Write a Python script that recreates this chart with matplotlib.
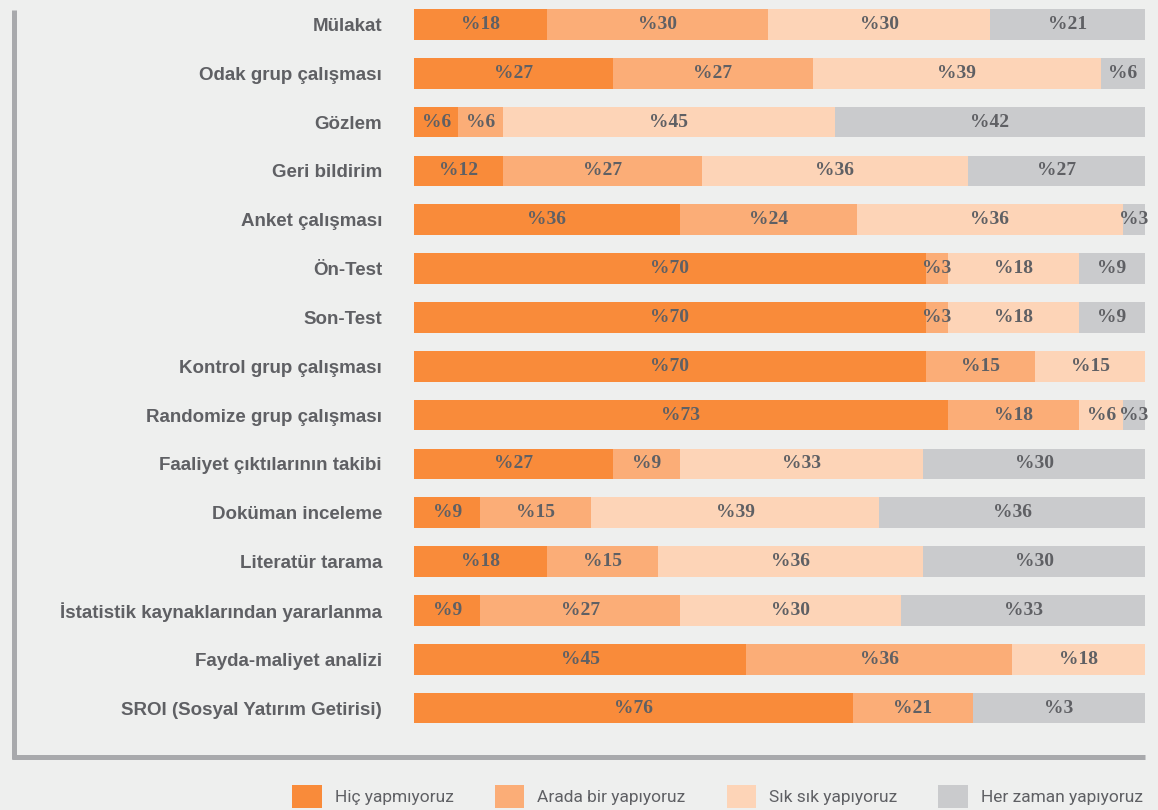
import numpy as np
import matplotlib.pyplot as plt
from matplotlib.lines import Line2D

# Categories (top to bottom)
categories = [
    "Mülakat",
    "Odak grup çalışması",
    "Gözlem",
    "Geri bildirim",
    "Anket çalışması",
    "Ön-Test",
    "Son-Test",
    "Kontrol grup çalışması",
    "Randomize grup çalışması",
    "Faaliyet çıktılarının takibi",
    "Doküman inceleme",
    "Literatür tarama",
    "İstatistik kaynaklarından yararlanma",
    "Fayda-maliyet analizi",
    "SROI (Sosyal Yatırım Getirisi)",
]
series_names = ["Hiç yapmıyoruz", "Arada bir yapıyoruz", "Sık sık yapıyoruz", "Her zaman yapıyoruz"]

# Bar lengths as drawn (percent)
hic = [18, 27, 6, 12, 36, 70, 70, 70, 73, 27, 9, 18, 9, 45, 60]
arada = [30, 27, 6, 27, 24, 3, 3, 15, 18, 9, 15, 15, 27, 36, 16.5]
sik = [30, 39, 45, 36, 36, 18, 18, 15, 6, 33, 39, 36, 30, 18, 0]
her = [21, 6, 42, 24, 3, 9, 9, 0, 3, 30, 36, 30, 33, 0, 23.5]

# Printed labels (as shown on the chart)
hic_lbl = [18, 27, 6, 12, 36, 70, 70, 70, 73, 27, 9, 18, 9, 45, 76]
arada_lbl = [30, 27, 6, 27, 24, 3, 3, 15, 18, 9, 15, 15, 27, 36, 21]
sik_lbl = [30, 39, 45, 36, 36, 18, 18, 15, 6, 33, 39, 36, 30, 18, 0]
her_lbl = [21, 6, 42, 27, 3, 9, 9, 0, 3, 30, 36, 30, 33, 0, 3]

colors = ["#F98B3A", "#FBAD77", "#FDD4B7", "#CACBCD"]
bg = "#EEEFEE"
text_col = "#5F6064"

W, H = 1158, 810
fig = plt.figure(figsize=(W / 100, H / 100), dpi=100, facecolor=bg)
ax = fig.add_axes([414 / W, 1 - 732.5 / H, (1145 - 414) / W, 732.5 / H])
ax.set_facecolor(bg)

values = np.array([hic, arada, sik, her], dtype=float)
labels = [hic_lbl, arada_lbl, sik_lbl, her_lbl]
totals = values.sum(axis=0)
shares = values / totals * 100
y = np.arange(len(categories))

left = np.zeros(len(categories))
for i in range(4):
    bars = ax.barh(y, shares[i], left=left, height=0.63, color=colors[i],
                   label=series_names[i], linewidth=0)
    txt = ["%" + str(v) if v else "" for v in labels[i]]
    ax.bar_label(bars, labels=txt, label_type="center", color=text_col,
                 fontsize=14, fontweight="bold", family="Liberation Serif",
                 clip_on=False)
    left += shares[i]

ax.set_xlim(0, 100)
ax.set_ylim(len(categories) - 0.5, -0.5)
ax.set_yticks(y)
ax.set_yticklabels(categories, fontsize=13.5, fontweight="bold",
                   color=text_col, family="Liberation Sans")
ax.tick_params(axis="y", length=0, pad=23)
ax.set_xticks([])
for s in ax.spines.values():
    s.set_visible(False)

# frame lines
frame_col = "#A8A9AC"
fig.add_artist(Line2D([14 / W, 14 / W], [1 - 10 / H, 1 - 759 / H], color=frame_col,
                      lw=3.6, solid_capstyle="butt"))
fig.add_artist(Line2D([12 / W, 1145 / W], [1 - 757 / H, 1 - 757 / H], color=frame_col,
                      lw=3.6, solid_capstyle="butt"))

leg = fig.legend(loc="lower right", bbox_to_anchor=(1152 / W, -7 / H), ncol=4,
                 frameon=False, handlelength=1.72, handleheight=1.72,
                 handletextpad=0.75, columnspacing=2.35, borderpad=0,
                 prop={"family": ["Liberation Sans Narrow", "Roboto", "DejaVu Sans"], "size": 12.5})
for t in leg.get_texts():
    t.set_color(text_col)

fig.savefig("out.png", dpi=100, facecolor=bg)
